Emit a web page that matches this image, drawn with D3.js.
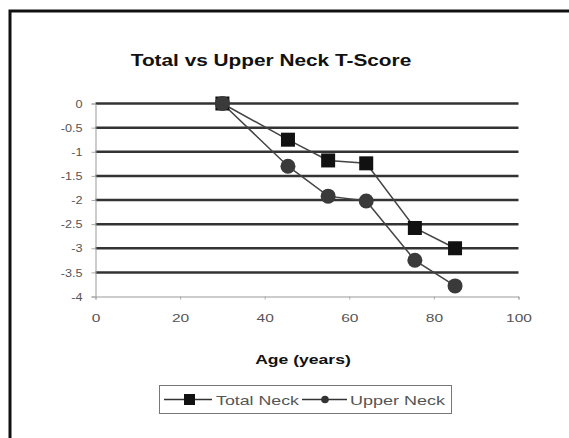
<!DOCTYPE html>
<html>
<head>
<meta charset="utf-8">
<script src="https://cdn.jsdelivr.net/npm/d3@7"></script>
<style>
  body { margin: 0; background: #fff; }
  svg { display: block; font-family: "Liberation Sans", Arial, sans-serif; }
</style>
</head>
<body>
<div id="chart"></div>
<script>
const ages = [30, 45.5, 55, 64, 75.5, 85];
const totalNeck = [0, -0.75, -1.18, -1.24, -2.58, -3.0];
const upperNeck = [0, -1.3, -1.92, -2.02, -3.25, -3.78];
const xTicks = [0, 20, 40, 60, 80, 100];
const yTicks = [0, -0.5, -1, -1.5, -2, -2.5, -3, -3.5, -4];
const seriesNames = ["Total Neck", "Upper Neck"];

const W = 569, H = 438;
const svg = d3.select("#chart").append("svg")
    .attr("width", W)
    .attr("height", H);

// the picture is stretched sideways, so stretch text to match
function stretch(sel, k) {
  sel.each(function() {
    const w = this.getComputedTextLength();
    d3.select(this).attr("textLength", w * k).attr("lengthAdjust", "spacingAndGlyphs");
  });
}

// outer frame (only top and left edges visible)
svg.append("path")
    .attr("d", "M10,438 L10,11 L569,11")
    .attr("fill", "none")
    .attr("stroke", "#111")
    .attr("stroke-width", 3);

const x = d3.scaleLinear().domain([0, 100]).range([95.5, 518.5]);
const y = d3.scaleLinear().domain([-4, 0]).range([296.5, 103.5]);

// title
svg.append("text")
    .attr("x", 271)
    .attr("y", 66)
    .attr("text-anchor", "middle")
    .style("font-weight", "bold")
    .style("font-size", "16px")
    .attr("fill", "#111")
    .text("Total vs Upper Neck T-Score")
    .call(stretch, 1.3);

// grid lines
svg.append("g")
  .selectAll("line")
  .data(yTicks.filter(d => d > -4))
  .enter().append("line")
    .attr("x1", x(0))
    .attr("x2", x(100))
    .attr("y1", d => y(d))
    .attr("y2", d => y(d))
    .attr("stroke", "#333")
    .attr("stroke-width", 2.5);

// axes
const yAxis = svg.append("g")
    .attr("transform", "translate(" + x(0) + ",0)")
    .call(d3.axisLeft(y).tickValues(yTicks).tickSize(4).tickFormat(d => String(d)));
const xAxis = svg.append("g")
    .attr("transform", "translate(0," + y(-4) + ")")
    .call(d3.axisBottom(x).tickValues(xTicks).tickSize(3).tickFormat(d => String(d)));

[yAxis, xAxis].forEach(a => {
  a.select(".domain").attr("stroke", "#999").attr("stroke-width", 1);
  a.selectAll(".tick line").attr("stroke", "#aaa");
  a.selectAll("text")
    .attr("fill", "#555")
    .style("font-size", "11.5px")
    .style("font-family", "'Liberation Sans', Arial, sans-serif");
});
yAxis.selectAll("text").attr("x", -13).call(stretch, 1.1);
xAxis.selectAll("text").attr("y", 17).call(stretch, 1.35);

// x axis label
svg.append("text")
    .attr("x", 303)
    .attr("y", 364)
    .attr("text-anchor", "middle")
    .style("font-weight", "bold")
    .style("font-size", "13px")
    .attr("fill", "#111")
    .text("Age (years)")
    .call(stretch, 1.35);

const line = d3.line()
    .x((d, i) => x(ages[i]))
    .y(d => y(d));

// Total Neck series
svg.append("path")
    .datum(totalNeck)
    .attr("d", line)
    .attr("fill", "none")
    .attr("stroke", "#444")
    .attr("stroke-width", 1.5);

// Upper Neck series
svg.append("path")
    .datum(upperNeck)
    .attr("d", line)
    .attr("fill", "none")
    .attr("stroke", "#444")
    .attr("stroke-width", 1.5);

svg.append("g")
  .selectAll("rect")
  .data(totalNeck)
  .enter().append("rect")
    .attr("x", (d, i) => x(ages[i]) - 7)
    .attr("y", d => y(d) - 7)
    .attr("width", 14)
    .attr("height", 14)
    .attr("fill", "#111");

svg.append("g")
  .selectAll("circle")
  .data(upperNeck)
  .enter().append("circle")
    .attr("cx", (d, i) => x(ages[i]))
    .attr("cy", d => y(d))
    .attr("r", 7.5)
    .attr("fill", "#3a3a3a");

// legend
const legend = svg.append("g");
legend.append("rect")
    .attr("x", 159.5)
    .attr("y", 385.5)
    .attr("width", 292)
    .attr("height", 28)
    .attr("fill", "#fff")
    .attr("stroke", "#777")
    .attr("stroke-width", 1);

legend.append("line")
    .attr("x1", 164).attr("x2", 212)
    .attr("y1", 399.5).attr("y2", 399.5)
    .attr("stroke", "#333").attr("stroke-width", 1.5);
legend.append("rect")
    .attr("x", 184).attr("y", 394)
    .attr("width", 11).attr("height", 11)
    .attr("fill", "#111");
legend.append("text")
    .attr("x", 216)
    .attr("y", 404.5)
    .style("font-size", "13px")
    .attr("fill", "#555")
    .text(seriesNames[0])
    .attr("textLength", 83)
    .attr("lengthAdjust", "spacingAndGlyphs");

legend.append("line")
    .attr("x1", 302).attr("x2", 347)
    .attr("y1", 399.5).attr("y2", 399.5)
    .attr("stroke", "#333").attr("stroke-width", 1.5);
legend.append("circle")
    .attr("cx", 325).attr("cy", 399.5)
    .attr("r", 3.8)
    .attr("fill", "#333");
legend.append("text")
    .attr("x", 350)
    .attr("y", 404.5)
    .style("font-size", "13px")
    .attr("fill", "#555")
    .text(seriesNames[1])
    .attr("textLength", 95)
    .attr("lengthAdjust", "spacingAndGlyphs");
</script>
</body>
</html>
